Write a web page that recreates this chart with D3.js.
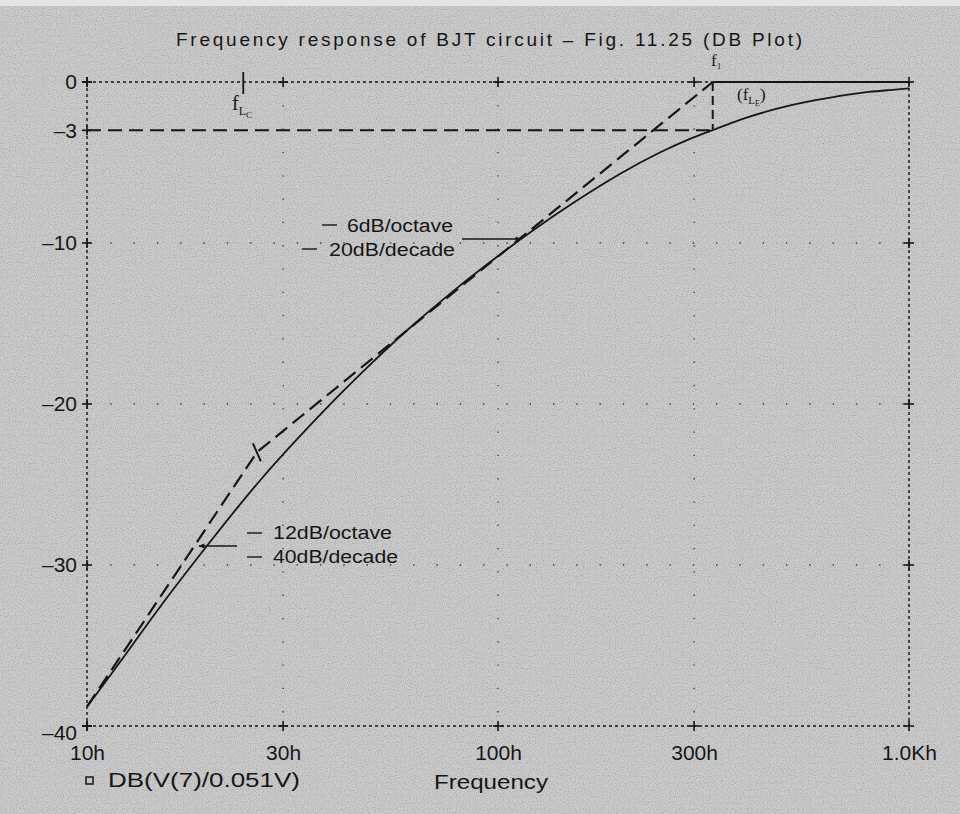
<!DOCTYPE html>
<html>
<head>
<meta charset="utf-8">
<script src="https://cdn.jsdelivr.net/npm/d3@7"></script>
<style>
  body { margin: 0; background: #c8c8c8; }
  svg { display: block; }
</style>
</head>
<body>
<div id="chart"></div>
<script>
// DB plot of the BJT circuit response, Fig. 11.25

const width = 960;
const height = 814;

// simulated response DB(V(7)/0.051V)
const freq = [10, 12, 15, 20, 25, 30, 40, 50, 60, 80, 100, 120, 150, 200, 250, 300, 333, 400, 500, 600, 700, 800, 900, 1000];
const dbV7 = [-38.8, -36.1, -32.6, -28.5, -25.4, -23.1, -19.7, -17.3, -15.4, -12.7, -10.8, -9.3, -7.6, -5.6, -4.3, -3.4, -3.0, -2.2, -1.5, -1.1, -0.8, -0.6, -0.5, -0.4];

// straight-line asymptotes (dashed)
const asymFreq = [10, 25.9, 333, 1000];
const asymDb = [-38.8, -23, 0, 0];

// -3 dB point and corner markers
const f1 = 333;
const fLc = 24;
const minus3 = -3;

const xTicks = [10, 30, 100, 300, 1000];
const xTickLabels = ['10h', '30h', '100h', '300h', '1.0Kh'];
const yTicks = [0, -3, -10, -20, -30, -40];
const yTickLabels = ['0', '\u20133', '\u201310', '\u201320', '\u201330', '\u201340'];
const yGrid = [-10, -20, -30];

const ink = '#161616';

const svg = d3.select('#chart')
  .append('svg')
  .attr('width', width)
  .attr('height', height);

// halftone-ish grain
const defs = svg.append('defs');
const grain = defs.append('filter').attr('id', 'grain')
  .attr('x', 0).attr('y', 0).attr('width', '100%').attr('height', '100%');
grain.append('feTurbulence')
  .attr('type', 'fractalNoise')
  .attr('baseFrequency', 0.85)
  .attr('numOctaves', 1)
  .attr('seed', 3);
grain.append('feColorMatrix')
  .attr('values', '0 0 0 0 0  0 0 0 0 0  0 0 0 0 0  0 0 0 -1.4 0.75');

const arrow = defs.append('marker')
  .attr('id', 'arrow')
  .attr('viewBox', '0 0 10 10')
  .attr('refX', 9).attr('refY', 5)
  .attr('markerWidth', 9).attr('markerHeight', 6)
  .attr('markerUnits', 'userSpaceOnUse')
  .attr('orient', 'auto');
arrow.append('path').attr('d', 'M0,1 L10,5 L0,9 Z').attr('fill', ink);

svg.append('rect').attr('width', width).attr('height', height).attr('fill', '#cacaca');
svg.append('rect').attr('width', width).attr('height', height).attr('filter', 'url(#grain)').attr('opacity', 0.35);
svg.append('rect').attr('width', width).attr('height', 6).attr('fill', '#e4e4e4');

const x = d3.scaleLog().domain([10, 1000]).range([87, 909]);
const y = d3.scaleLinear().domain([-40, 0]).range([726, 82]);

const font = "'Liberation Sans', Arial, sans-serif";
const serif = "'Liberation Serif', 'Times New Roman', serif";

// title
svg.append('text')
  .attr('x', 176)
  .attr('y', 46)
  .attr('textLength', 626)
  .attr('lengthAdjust', 'spacing')
  .attr('font-family', font)
  .attr('font-size', 19)
  .attr('fill', ink)
  .text('Frequency response of BJT circuit \u2013 Fig. 11.25 (DB Plot)');

// sparse dotted grid
const grid = svg.append('g')
  .attr('stroke', '#333')
  .attr('stroke-width', 1.3)
  .attr('stroke-dasharray', '1.3,22');
grid.selectAll('.vgrid')
  .data(xTicks.slice(1, -1))
  .enter().append('line')
  .attr('x1', d => x(d)).attr('x2', d => x(d))
  .attr('y1', y(0)).attr('y2', y(-40));
grid.selectAll('.hgrid')
  .data(yGrid)
  .enter().append('line')
  .attr('x1', x(10)).attr('x2', x(1000))
  .attr('y1', d => y(d)).attr('y2', d => y(d));

// dotted frame
const frame = svg.append('g')
  .attr('stroke', ink)
  .attr('stroke-width', 1.4)
  .attr('stroke-dasharray', '3,3')
  .attr('fill', 'none');
frame.append('line').attr('x1', x(10)).attr('x2', x(10)).attr('y1', y(0)).attr('y2', y(-40));
frame.append('line').attr('x1', x(1000)).attr('x2', x(1000)).attr('y1', y(0)).attr('y2', y(-40));
frame.append('line').attr('x1', x(10)).attr('x2', x(1000)).attr('y1', y(-40)).attr('y2', y(-40));
frame.append('line').attr('x1', x(10)).attr('x2', x(f1)).attr('y1', y(0)).attr('y2', y(0));

// "+" tick crosses on the frame
const crosses = [];
xTicks.forEach(f => { crosses.push([x(f), y(0)]); crosses.push([x(f), y(-40)]); });
yTicks.forEach(v => { crosses.push([x(10), y(v)]); });
yGrid.forEach(v => { crosses.push([x(1000), y(v)]); });
const cr = svg.append('g').attr('stroke', ink).attr('stroke-width', 1.6);
cr.selectAll('.ch').data(crosses).enter().append('line')
  .attr('x1', d => d[0] - 5).attr('x2', d => d[0] + 5)
  .attr('y1', d => d[1]).attr('y2', d => d[1]);
cr.selectAll('.cv').data(crosses).enter().append('line')
  .attr('x1', d => d[0]).attr('x2', d => d[0])
  .attr('y1', d => d[1] - 5).attr('y2', d => d[1] + 5);

// axes (labels only)
const xAxis = svg.append('g')
  .attr('transform', `translate(0,${y(-40)})`)
  .call(d3.axisBottom(x).tickValues(xTicks).tickFormat((d, i) => xTickLabels[i]).tickSize(0).tickPadding(19));
const yAxis = svg.append('g')
  .attr('transform', `translate(${x(10)},0)`)
  .call(d3.axisLeft(y).tickValues(yTicks).tickFormat((d, i) => yTickLabels[i]).tickSize(0).tickPadding(10));
[xAxis, yAxis].forEach(a => {
  a.select('.domain').remove();
  a.selectAll('text')
    .attr('font-family', font)
    .attr('font-size', 21)
    .attr('fill', ink);
});
yAxis.selectAll('.tick').filter(d => d === -40).select('text').attr('dy', '0.62em');

// legend + axis title
svg.append('rect')
  .attr('x', 86).attr('y', 777).attr('width', 7).attr('height', 7)
  .attr('fill', 'none').attr('stroke', ink).attr('stroke-width', 1.5);
svg.append('text')
  .attr('x', 108).attr('y', 787)
  .attr('textLength', 192).attr('lengthAdjust', 'spacingAndGlyphs')
  .attr('font-family', font).attr('font-size', 20).attr('fill', ink)
  .text('DB(V(7)/0.051V)');
svg.append('text')
  .attr('x', 434).attr('y', 789)
  .attr('textLength', 114).attr('lengthAdjust', 'spacingAndGlyphs')
  .attr('font-family', font).attr('font-size', 20).attr('fill', ink)
  .text('Frequency');

// -3 dB guide lines
const guide = svg.append('g')
  .attr('stroke', ink).attr('stroke-width', 2)
  .attr('stroke-dasharray', '14,7').attr('fill', 'none');
guide.append('line').attr('x1', x(10)).attr('x2', x(f1)).attr('y1', y(minus3)).attr('y2', y(minus3));
guide.append('line').attr('x1', x(f1)).attr('x2', x(f1)).attr('y1', y(0)).attr('y2', y(minus3))
  .attr('stroke-dasharray', '9,5');

// asymptotes
const line = d3.line().x(d => x(d[0])).y(d => y(d[1]));
svg.append('path')
  .datum(asymFreq.slice(0, 3).map((f, i) => [f, asymDb[i]]))
  .attr('d', line)
  .attr('fill', 'none').attr('stroke', ink).attr('stroke-width', 2.2)
  .attr('stroke-dasharray', '15,7');
svg.append('path')
  .datum(asymFreq.slice(2).map((f, i) => [f, asymDb[i + 2]]))
  .attr('d', line)
  .attr('fill', 'none').attr('stroke', ink).attr('stroke-width', 2);

// break mark on the asymptote
const bx = x(asymFreq[1]), by = y(asymDb[1]);
svg.append('line')
  .attr('x1', bx - 4).attr('y1', by - 9).attr('x2', bx + 4).attr('y2', by + 9)
  .attr('stroke', ink).attr('stroke-width', 2);

// simulated curve
const curve = d3.line().x(d => x(d[0])).y(d => y(d[1])).curve(d3.curveBasis);
svg.append('path')
  .datum(freq.map((f, i) => [f, dbV7[i]]))
  .attr('d', curve)
  .attr('fill', 'none').attr('stroke', ink).attr('stroke-width', 1.8);

// corner frequency markers
svg.append('line')
  .attr('x1', x(fLc)).attr('x2', x(fLc)).attr('y1', y(0) - 10).attr('y2', y(0) + 12)
  .attr('stroke', ink).attr('stroke-width', 1.8);

const fLabel = (px, py, size, subs) => {
  const t = svg.append('text')
    .attr('x', px).attr('y', py)
    .attr('font-family', serif).attr('fill', ink)
    .attr('font-size', size);
  subs.forEach(s => {
    t.append('tspan').attr('font-size', s[1]).attr('dy', s[2]).text(s[0]);
  });
};
fLabel(232, 110, 20, [['f', 20, 0], ['L', 12, 5], ['C', 9, 3]]);
fLabel(711, 66, 17, [['f', 17, 0], ['1', 9, 3]]);
fLabel(737, 100, 17, [['(f', 17, 0], ['L', 11, 4], ['E', 8, 2], [')', 17, -6]]);

// slope annotations
const ann = svg.append('g').attr('font-family', font).attr('font-size', 18).attr('fill', ink);
const notes = [
  [322, 225, 347, 232, 106, '6dB/octave'],
  [302, 249, 329, 256, 126, '20dB/decade'],
  [247, 533, 273, 539, 119, '12dB/octave'],
  [247, 557, 273, 563, 125, '40dB/decade']
];
notes.forEach(n => {
  svg.append('line')
    .attr('x1', n[0]).attr('x2', n[0] + 15).attr('y1', n[1]).attr('y2', n[1])
    .attr('stroke', ink).attr('stroke-width', 1.4);
  ann.append('text')
    .attr('x', n[2]).attr('y', n[3])
    .attr('textLength', n[4]).attr('lengthAdjust', 'spacingAndGlyphs')
    .text(n[5]);
});

svg.append('line')
  .attr('x1', 462).attr('y1', 239).attr('x2', 521).attr('y2', 239)
  .attr('stroke', ink).attr('stroke-width', 1.6)
  .attr('marker-end', 'url(#arrow)');
svg.append('line')
  .attr('x1', 237).attr('y1', 546).attr('x2', 199).attr('y2', 546)
  .attr('stroke', ink).attr('stroke-width', 1.6)
  .attr('marker-end', 'url(#arrow)');
</script>
</body>
</html>
